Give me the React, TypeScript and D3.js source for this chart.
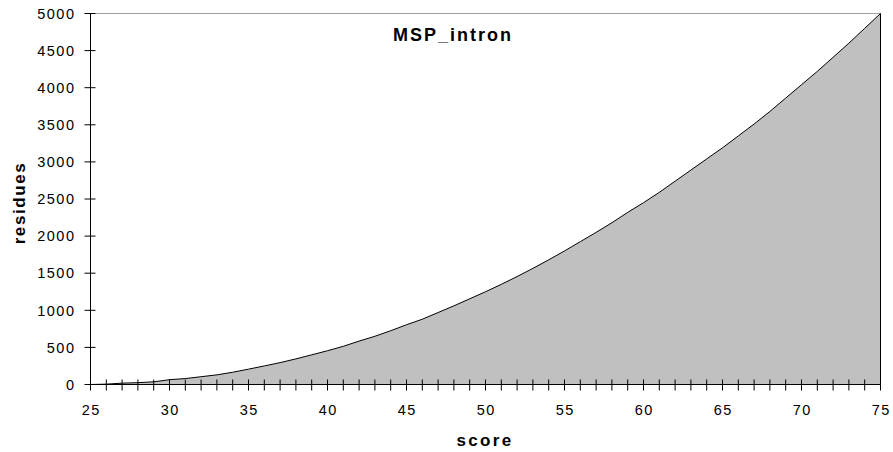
import React from "react";
import * as d3 from "d3";

const scores: number[] = [
  25, 26, 27, 28, 29, 30, 31, 32, 33, 34, 35, 36, 37, 38, 39, 40, 41, 42, 43, 44, 45, 46, 47, 48, 49, 50,
  51, 52, 53, 54, 55, 56, 57, 58, 59, 60, 61, 62, 63, 64, 65, 66, 67, 68, 69, 70, 71, 72, 73, 74, 75,
];
const residues: number[] = [
  0, 5, 18, 25, 36, 65, 80, 105, 130, 165, 207, 250, 295, 345, 400, 455, 515, 585, 650, 725, 805, 880, 970, 1060, 1155, 1250,
  1350, 1455, 1565, 1680, 1800, 1925, 2050, 2180, 2320, 2450, 2590, 2740, 2890, 3040, 3190, 3350, 3510, 3680, 3860, 4040,
  4220, 4410, 4600, 4800, 5000,
];
const xTickLabels: number[] = [25, 30, 35, 40, 45, 50, 55, 60, 65, 70, 75];
const yTickLabels: number[] = [0, 500, 1000, 1500, 2000, 2500, 3000, 3500, 4000, 4500, 5000];
const title = "MSP_intron";
const xTitle = "score";
const yTitle = "residues";

const W = 893;
const H = 452;
const L = 90.5;
const R = 880.5;
const T = 13.5;
const B = 384.5;

export default function App() {
  const x = d3.scaleLinear().domain([25, 75]).range([L, R]);
  const y = d3.scaleLinear().domain([0, 5000]).range([B, T]);
  const data = scores.map((s, i) => ({ s, v: residues[i] }));
  const area = d3
    .area<{ s: number; v: number }>()
    .x((d) => x(d.s))
    .y0(y(0))
    .y1((d) => y(d.v));
  const line = d3
    .line<{ s: number; v: number }>()
    .x((d) => x(d.s))
    .y((d) => y(d.v));
  const minorTicks = d3.range(25, 76, 1);
  const font = "'Liberation Sans', Arial, sans-serif";
  const last = data[data.length - 1];
  return (
    <svg width={W} height={H} style={{ position: "absolute", left: 0, top: 0, background: "#fff" }} fontFamily={font}>
      <line x1={L} x2={R} y1={T} y2={T} stroke="#a0a0a0" strokeWidth={1} />
      <path d={area(data) || ""} fill="#c0c0c0" stroke="none" />
      <path d={line(data) || ""} fill="none" stroke="#000" strokeWidth={1} />
      <line x1={x(last.s)} x2={x(last.s)} y1={y(last.v)} y2={B} stroke="#000" strokeWidth={1} />
      <line x1={L} x2={L} y1={T} y2={B} stroke="#000" strokeWidth={1} />
      <line x1={L} x2={R} y1={B} y2={B} stroke="#000" strokeWidth={1} />
      {yTickLabels.map((v) => (
        <g key={"y" + v}>
          <line x1={L - 6} x2={L + 5} y1={y(v)} y2={y(v)} stroke="#000" strokeWidth={1} />
          <text x={L - 15} y={y(v)} dy="0.36em" textAnchor="end" fontSize={14.5} letterSpacing={1.5} fill="#000">
            {v}
          </text>
        </g>
      ))}
      {minorTicks.map((s) => (
        <line key={"t" + s} x1={x(s)} x2={x(s)} y1={B - 5} y2={B + 6} stroke="#000" strokeWidth={1} />
      ))}
      {xTickLabels.map((s) => (
        <text key={"x" + s} x={x(s) + 0.8} y={415} textAnchor="middle" fontSize={14.5} letterSpacing={1.5} fill="#000">
          {s}
        </text>
      ))}
      <text x={453} y={41} textAnchor="middle" fontSize={18} fontWeight="bold" letterSpacing={2} fill="#000">
        {title}
      </text>
      <text x={485} y={446} textAnchor="middle" fontSize={17} fontWeight="bold" letterSpacing={2.3} fill="#000">
        {xTitle}
      </text>
      <text
        transform={`translate(25,203) rotate(-90)`}
        textAnchor="middle"
        fontSize={17}
        fontWeight="bold"
        letterSpacing={1.6}
        fill="#000"
      >
        {yTitle}
      </text>
    </svg>
  );
}
